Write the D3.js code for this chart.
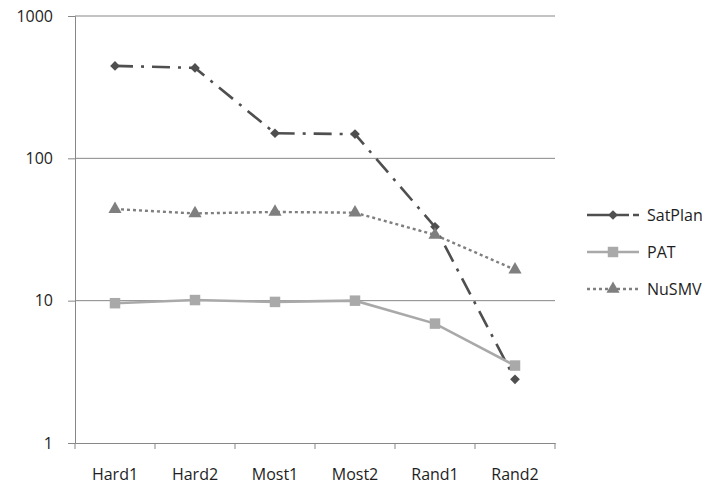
<!DOCTYPE html>
<html>
<head>
<meta charset="utf-8">
<script src="https://d3js.org/d3.v7.min.js"></script>
<style>
  body { margin: 0; background: #fff; }
  text { font-family: "Open Sans", sans-serif; fill: #1e1e1e; }
</style>
</head>
<body>
<svg id="chart" width="708" height="485"></svg>
<script>
var categories = ["Hard1", "Hard2", "Most1", "Most2", "Rand1", "Rand2"];
var satplan = [446, 432, 150, 148, 33, 2.8];
var pat = [9.6, 10.1, 9.8, 10.0, 6.9, 3.5];
var nusmv = [44, 41, 42, 41.5, 29, 16.5];
var yTicks = [1, 10, 100, 1000];

var series = [
  { name: "SatPlan", values: satplan, color: "#4f4f4f", dash: "18,8,3,8", legendDash: "42,4,7", marker: "diamond" },
  { name: "PAT", values: pat, color: "#a9a9a9", dash: null, legendDash: null, marker: "square" },
  { name: "NuSMV", values: nusmv, color: "#7f7f7f", dash: "3,3", legendDash: "3,3", marker: "triangle" }
];

var svg = d3.select("#chart");
var plotLeft = 75, plotRight = 555, plotTop = 16, plotBottom = 443;
var fontSize = 16;

var x = d3.scaleBand().domain(categories).range([plotLeft, plotRight]);
var y = d3.scaleLog().domain([1, 1000]).range([plotBottom, plotTop]);

// gridlines
svg.append("g").selectAll("line")
  .data(yTicks.slice(1))
  .join("line")
  .attr("x1", plotLeft).attr("x2", plotRight)
  .attr("y1", d => y(d)).attr("y2", d => y(d))
  .attr("stroke", "#878787").attr("stroke-width", 1);

// y axis
var yAxis = svg.append("g")
  .attr("transform", "translate(" + plotLeft + ",0)")
  .call(d3.axisLeft(y).tickValues(yTicks).tickFormat(d3.format("d")).tickSize(7).tickPadding(15));
yAxis.select(".domain").attr("stroke", "#878787");
yAxis.selectAll(".tick line").attr("stroke", "#878787");
yAxis.selectAll("text").attr("font-size", fontSize).attr("font-family", "Open Sans, sans-serif").attr("fill", "#1e1e1e");

// x axis
var xAxis = svg.append("g")
  .attr("transform", "translate(0," + plotBottom + ")")
  .call(d3.axisBottom(x).tickSize(0).tickPadding(26));
xAxis.select(".domain").attr("stroke", "#878787");
xAxis.selectAll("text").attr("font-size", fontSize).attr("font-family", "Open Sans, sans-serif").attr("fill", "#1e1e1e");
// tick marks at band boundaries
xAxis.selectAll(".bound")
  .data(d3.range(categories.length + 1))
  .join("line")
  .attr("x1", i => plotLeft + i * x.step()).attr("x2", i => plotLeft + i * x.step())
  .attr("y1", 0).attr("y2", 6)
  .attr("stroke", "#878787");

var cx = d => x(d) + x.bandwidth() / 2;

var symbols = {
  diamond: d3.symbol().type(d3.symbolDiamond2).size(60),
  square: d3.symbol().type(d3.symbolSquare).size(110),
  triangle: d3.symbol().type(d3.symbolTriangle).size(75)
};

var line = d3.line()
  .x((d, i) => cx(categories[i]))
  .y(d => y(d));

series.forEach(function (s) {
  svg.append("path")
    .datum(s.values)
    .attr("fill", "none")
    .attr("stroke", s.color)
    .attr("stroke-width", s.name === "NuSMV" ? 2.4 : 2.6)
    .attr("stroke-dasharray", s.dash)
    .attr("d", line);
});

series.forEach(function (s) {
  svg.append("g").selectAll("path")
    .data(s.values)
    .join("path")
    .attr("transform", (d, i) => "translate(" + cx(categories[i]) + "," + y(d) + ")")
    .attr("d", symbols[s.marker])
    .attr("fill", s.color);
});

// legend
var legend = svg.append("g");
series.forEach(function (s, i) {
  var ly = 215 + i * 37;
  legend.append("line")
    .attr("x1", 587).attr("x2", 639)
    .attr("y1", ly).attr("y2", ly)
    .attr("stroke", s.color)
    .attr("stroke-width", s.name === "NuSMV" ? 2.4 : 2.6)
    .attr("stroke-dasharray", s.legendDash);
  legend.append("path")
    .attr("transform", "translate(613," + ly + ")")
    .attr("d", symbols[s.marker])
    .attr("fill", s.color);
  legend.append("text")
    .attr("x", 647).attr("y", ly)
    .attr("dy", "0.35em")
    .attr("font-size", fontSize)
    .text(s.name);
});
</script>
</body>
</html>
